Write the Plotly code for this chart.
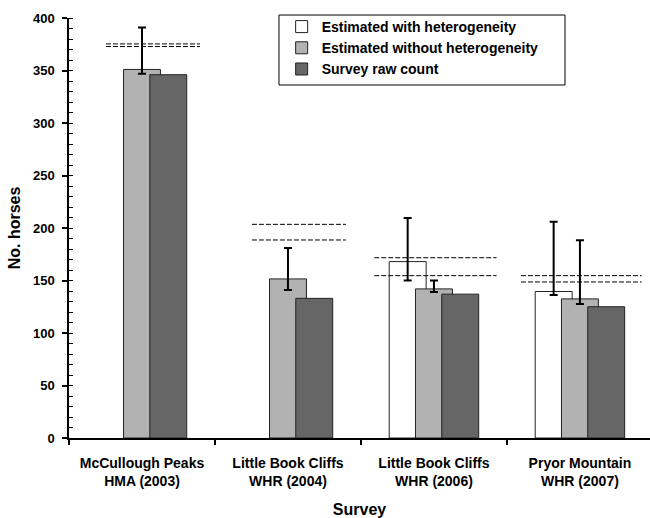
import plotly.graph_objects as go

# ---- data ----
categories = ["McCullough Peaks<br>HMA (2003)", "Little Book Cliffs<br>WHR (2004)",
              "Little Book Cliffs<br>WHR (2006)", "Pryor Mountain<br>WHR (2007)"]
series_names = ["Estimated with heterogeneity", "Estimated without heterogeneity", "Survey raw count"]

with_het = [None, None, 168, 139.5]
with_het_upper = [None, None, 209.5, 206]
with_het_lower = [None, None, 150, 136.2]

without_het = [351, 151.5, 142, 132.5]
without_het_upper = [391, 181, 150, 188.3]
without_het_lower = [347, 141, 139, 127.6]

raw_count = [346, 133, 137, 125]

# dashed reference levels (two per survey)
dashed_high = [375.3, 203.5, 171.7, 154.6]
dashed_low = [372.8, 188.6, 154.6, 148.6]

# ---- layout constants ----
FONT = "Liberation Sans"
bar_w = 0.253
step = 0.18
dash_extent = [(-0.247, 0.397), (-0.247, 0.397), (-0.409, 0.429), (-0.404, 0.423)]


def err(vals, up, lo):
    plus = [None if v is None else u - v for v, u in zip(vals, up)]
    minus = [None if v is None else v - l for v, l in zip(vals, lo)]
    return plus, minus


fig = go.Figure()

wp, wm = err(with_het, with_het_upper, with_het_lower)
gp, gm = err(without_het, without_het_upper, without_het_lower)

specs = [
    (series_names[0], with_het, "#ffffff", -step - bar_w / 2, (wp, wm)),
    (series_names[1], without_het, "#b2b2b2", -bar_w / 2, (gp, gm)),
    (series_names[2], raw_count, "#666666", step - bar_w / 2, None),
]
for name, vals, color, off, e in specs:
    kw = {}
    if e is not None:
        kw["error_y"] = dict(type="data", symmetric=False, array=e[0], arrayminus=e[1],
                             color="black", thickness=2, width=4)
    fig.add_trace(go.Bar(
        name=name, x=categories, y=vals, width=bar_w, offset=off,
        marker=dict(color=color, line=dict(color="#222222", width=1)),
        **kw))

shapes = []
for i, (hi, lo) in enumerate(zip(dashed_high, dashed_low)):
    x0, x1 = dash_extent[i]
    for yv in (hi, lo):
        shapes.append(dict(type="line", xref="x", yref="y", x0=i + x0, x1=i + x1,
                           y0=yv, y1=yv, line=dict(color="black", width=1, dash="5px,2px")))
# legend frame
shapes.append(dict(type="rect", xref="paper", yref="paper", x0=0.3614, x1=0.8537,
                   y0=0.8405, y1=1.0071, line=dict(color="black", width=1),
                   fillcolor="rgba(0,0,0,0)"))

fig.update_layout(
    width=650, height=518,
    margin=dict(l=69, r=0, t=18, b=80),
    paper_bgcolor="white", plot_bgcolor="white",
    barmode="overlay",
    shapes=shapes,
    showlegend=True,
    legend=dict(x=0.366, y=1.0167, xanchor="left", yanchor="top",
                borderwidth=0, bgcolor="rgba(0,0,0,0)",
                font=dict(family=FONT, size=14, color="black", weight="bold"),
                traceorder="normal", itemwidth=30),
    font=dict(family=FONT, color="black"),
)

fig.update_xaxes(
    type="category", range=[-0.5, 3.48], tickson="boundaries",
    ticks="outside", ticklen=5, tickwidth=1.5, tickcolor="black",
    showline=True, linecolor="black", linewidth=1.5, showgrid=False,
    tickfont=dict(family=FONT, size=14, color="black", weight="bold"),
    ticklabelstandoff=11,
    title=dict(text="Survey", font=dict(family=FONT, size=16, color="black", weight="bold"),
               standoff=16),
)
fig.update_yaxes(
    range=[0, 400], dtick=50, ticks="outside", ticklen=5, tickwidth=1.5, tickcolor="black",
    minor=dict(dtick=10, ticks="inside", ticklen=4, tickwidth=1, tickcolor="black"),
    showline=True, linecolor="black", linewidth=1.5, showgrid=False, zeroline=False,
    tickfont=dict(family=FONT, size=13, color="black", weight="bold"),
    ticklabelstandoff=5,
    title=dict(text="No. horses", font=dict(family=FONT, size=16, color="black", weight="bold"),
               standoff=8),
)

fig.write_html("out.html")
